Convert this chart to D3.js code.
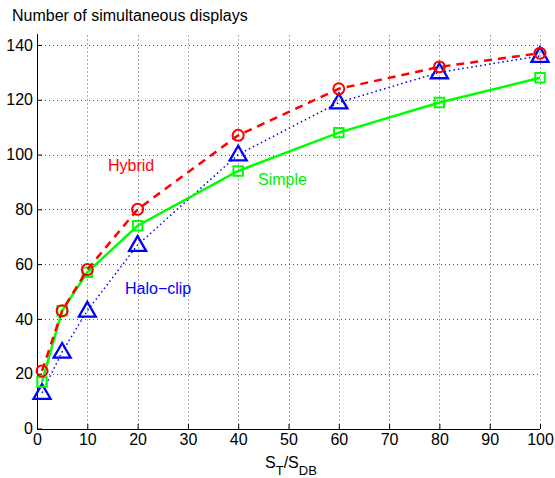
<!DOCTYPE html>
<html>
<head>
<meta charset="utf-8">
<script src="https://cdn.jsdelivr.net/npm/d3@7"></script>
<style>
  body { margin: 0; background: #fff; }
  svg text { font-family: "Liberation Sans", Arial, sans-serif; }
</style>
</head>
<body>
<svg id="chart" width="555" height="478"></svg>
<script>
// data
const xValues = [1, 5, 10, 20, 40, 60, 80, 100];
const hybrid = [21, 43, 58, 80, 107, 124, 132, 137];
const simple = [17, 43, 57, 74, 94, 108, 119, 128];
const haloClip = [13, 28, 43, 67, 100, 119, 130, 136];
const xTicks = [0, 10, 20, 30, 40, 50, 60, 70, 80, 90, 100];
const yTicks = [0, 20, 40, 60, 80, 100, 120, 140];

const svg = d3.select('#chart');
const x = d3.scaleLinear().domain([0, 100]).range([37, 540]);
const y = d3.scaleLinear().domain([0, 144]).range([428.5, 34]);

// grid
const grid = svg.append('g').attr('stroke', '#555').attr('stroke-width', 1)
  .attr('stroke-dasharray', '1,3');
grid.selectAll('.vg').data(xTicks.slice(1)).enter().append('line')
  .attr('x1', d => Math.round(x(d)) + 0.5).attr('x2', d => Math.round(x(d)) + 0.5)
  .attr('y1', y(0)).attr('y2', y(144));
grid.selectAll('.hg').data(yTicks.slice(1)).enter().append('line')
  .attr('y1', d => Math.round(y(d)) + 0.5).attr('y2', d => Math.round(y(d)) + 0.5)
  .attr('x1', x(0)).attr('x2', x(100));

// axes
const xAxis = d3.axisBottom(x).tickValues(xTicks).tickSize(-5).tickPadding(5);
const yAxis = d3.axisLeft(y).tickValues(yTicks).tickSize(-5).tickPadding(4);
const gx = svg.append('g').attr('transform', 'translate(0,' + Math.round(y(0)) + ')').call(xAxis);
const gy = svg.append('g').attr('transform', 'translate(' + Math.round(x(0)) + ',0)').call(yAxis);
[gx, gy].forEach(g => {
  g.select('.domain').attr('stroke', '#000');
  g.selectAll('line').attr('stroke', '#000');
  g.selectAll('text').attr('font-size', 16).attr('fill', '#000');
});
gx.select('.domain').attr('d', 'M' + x(0) + ',0.5H' + x(100));
gy.select('.domain').attr('d', 'M0.5,' + y(0) + 'V' + y(144));

const series = [
  { name: 'Hybrid', vals: hybrid, color: '#ff0000', width: 2.5, dash: '8,6', marker: 'circle' },
  { name: 'Simple', vals: simple, color: '#00ff00', width: 2.5, dash: null, marker: 'square' },
  { name: 'Halo-clip', vals: haloClip, color: '#0000ff', width: 1.5, dash: '1.5,3', marker: 'triangle' }
];

const line = d3.line().x(d => x(d[0])).y(d => y(d[1]));

// draw blue first, green, then red (order from reference)
const drawOrder = [series[2], series[1], series[0]];
drawOrder.forEach(s => {
  const pts = xValues.map((v, i) => [v, s.vals[i]]);
  svg.append('path').datum(pts)
    .attr('d', line)
    .attr('fill', 'none')
    .attr('stroke', s.color)
    .attr('stroke-width', s.width)
    .attr('stroke-dasharray', s.dash);
  const sym = s.marker === 'circle' ? d3.symbolCircle
    : s.marker === 'square' ? d3.symbolSquare : d3.symbolTriangle;
  const size = s.marker === 'circle' ? 95 : s.marker === 'square' ? 90 : 125;
  svg.append('g').selectAll('path').data(pts).enter().append('path')
    .attr('d', d3.symbol().type(sym).size(size))
    .attr('transform', d => 'translate(' + x(d[0]) + ',' + (y(d[1]) + (s.marker === 'triangle' ? 1 : 0)) + ')')
    .attr('fill', 'none')
    .attr('stroke', s.color)
    .attr('stroke-width', s.marker === 'triangle' ? 2.3 : 2);
});

// series labels
svg.append('text').attr('x', 108).attr('y', 171).attr('font-size', 16).attr('fill', '#ff0000').text('Hybrid');
svg.append('text').attr('x', 258).attr('y', 185).attr('font-size', 16).attr('fill', '#00ee00').text('Simple');
svg.append('text').attr('x', 125).attr('y', 294).attr('font-size', 16).attr('fill', '#0000ff').text('Halo\u2212clip');

// titles
svg.append('text').attr('x', 12).attr('y', 21).attr('font-size', 16).attr('fill', '#000')
  .text('Number of simultaneous displays');
const xl = svg.append('text').attr('x', 265).attr('y', 468).attr('font-size', 16).attr('fill', '#000');
xl.append('tspan').text('S');
xl.append('tspan').attr('font-size', 13).attr('dy', 7).text('T');
xl.append('tspan').attr('dy', -7).text('/S');
xl.append('tspan').attr('font-size', 13).attr('dy', 7).text('DB');
</script>
</body>
</html>
